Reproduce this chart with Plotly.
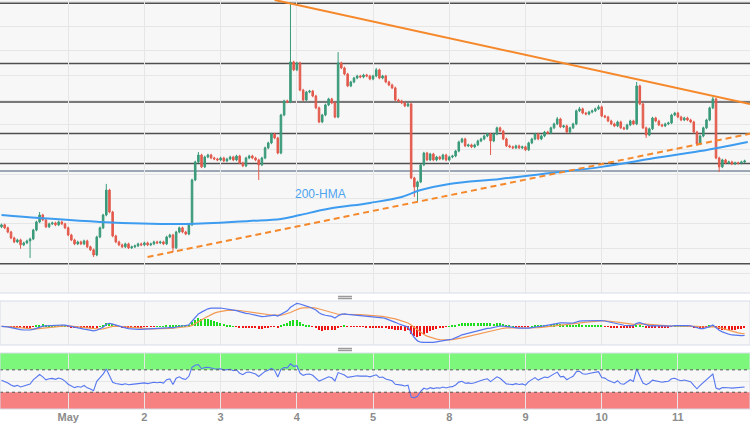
"""XAU/USD hourly chart with trend lines, 200-HMA, MACD and RSI panels."""
import pandas as pd
import plotly.graph_objects as go
from plotly.subplots import make_subplots

UP = "#3A9A7A"
DOWN = "#E35B4D"
GRID = "#E6E6E6"
PLOT_BG = "#F7F7F7"
ORANGE = "#F5882A"
HMA_BLUE = "#3D9CF0"

# day ticks (hour index of each midnight)
DAY_TICKS = [21, 45, 69, 93, 117, 141, 165, 189, 213]
DAY_LABELS = ["May", "2", "3", "4", "5", "8", "9", "10", "11"]

OPEN_0 = 1988.7
CLOSE = [
    1989.5, 1988.3, 1986.6, 1984.2, 1982.6, 1983.4, 1981.4, 1982.2, 1983.0, 1983.8,
    1987.4, 1990.7, 1993.5, 1991.5, 1988.7, 1989.9, 1990.3, 1989.5, 1990.7, 1989.9,
    1988.3, 1985.4, 1983.4, 1981.8, 1982.6, 1981.8, 1983.0, 1980.6, 1979.4, 1977.3,
    1984.6, 1988.3, 1993.5, 2003.6, 1994.7, 1985.0, 1982.6, 1981.4, 1980.6, 1981.8,
    1980.2, 1980.6, 1981.0, 1981.8, 1981.4, 1982.2, 1981.4, 1981.8, 1982.6, 1982.2,
    1982.6, 1981.8, 1984.6, 1985.4, 1980.2, 1986.6, 1988.3, 1986.6, 1985.8, 1989.5,
    2007.7, 2015.0, 2017.8, 2013.0, 2017.0, 2017.8, 2016.6, 2016.2, 2015.8, 2016.6,
    2015.4, 2016.2, 2017.0, 2015.8, 2017.4, 2014.6, 2013.4, 2016.6, 2017.4, 2016.6,
    2015.8, 2013.8, 2016.6, 2020.7, 2022.7, 2026.3, 2024.7, 2018.6, 2034.0, 2039.7,
    2039.3, 2055.5, 2052.3, 2055.1, 2044.1, 2040.1, 2043.3, 2043.7, 2041.7, 2036.9,
    2031.2, 2034.0, 2038.1, 2040.5, 2038.9, 2033.2, 2055.1, 2053.1, 2050.6, 2045.8,
    2047.4, 2049.0, 2049.8, 2049.4, 2050.2, 2049.8, 2048.6, 2049.8, 2052.3, 2049.0,
    2049.8, 2047.4, 2046.2, 2045.0, 2040.1, 2039.7, 2038.9, 2037.7, 2038.5, 2008.5,
    2004.9, 2006.9, 2013.8, 2018.6, 2015.8, 2018.2, 2015.8, 2017.0, 2016.2, 2017.8,
    2015.8, 2017.0, 2017.4, 2019.4, 2023.1, 2024.3, 2021.5, 2021.9, 2021.1, 2021.9,
    2023.5, 2024.3, 2025.5, 2026.3, 2023.5, 2026.3, 2028.8, 2027.5, 2024.3, 2021.5,
    2021.1, 2020.7, 2021.5, 2020.7, 2021.1, 2019.9, 2022.7, 2024.3, 2026.3, 2024.3,
    2025.5, 2027.1, 2026.7, 2028.8, 2030.4, 2032.4, 2029.2, 2029.6, 2027.1, 2028.8,
    2030.4, 2035.7, 2036.5, 2034.8, 2034.4, 2035.2, 2035.7, 2036.5, 2037.3, 2033.6,
    2033.2, 2031.6, 2030.4, 2029.6, 2031.2, 2028.8, 2028.4, 2030.0, 2031.6, 2030.4,
    2045.8, 2038.5, 2028.8, 2025.9, 2028.4, 2032.8, 2031.6, 2030.0, 2029.6, 2030.4,
    2030.8, 2034.0, 2034.8, 2033.2, 2032.0, 2032.8, 2032.0, 2031.2, 2027.1, 2022.3,
    2025.5, 2028.8, 2032.0, 2036.9, 2040.5, 2016.6, 2013.0, 2015.8, 2014.6, 2015.0,
    2014.2, 2014.6, 2014.5, 2015.0, 2015.4,
]

# visible long wicks
WICK_HIGH = {12: 1994.7, 33: 2006.1, 62: 2019.0, 91: 2079.8, 106: 2059.5,
             118: 2053.1, 175: 2033.2, 182: 2037.3, 188: 2038.1, 200: 2047.4,
             224: 2041.3}
WICK_LOW = {6: 1979.8, 9: 1976.1, 29: 1976.5, 54: 1978.5, 81: 2007.7,
            130: 2000.8, 131: 1998.8, 154: 2017.8, 203: 2024.7, 219: 2021.5,
            226: 2010.9}
SMALL_WICK = 0.5

HMA_IDX = [0, 12, 31, 58, 78, 88, 94, 103, 116, 126, 132, 141, 157, 173, 189, 204, 220, 235]
HMA_VAL = [1993.5, 1992.3, 1990.7, 1989.9, 1991.1, 1991.9, 1993.5, 1996.0, 1998.4,
           2000.8, 2003.6, 2006.1, 2008.1, 2010.5, 2013.0, 2016.2, 2019.4, 2023.1]

LEVELS = [2079.3, 2054.9, 2039.3, 2026.5, 2014.4, 1973.7]
LEVEL_SLATE = 2011.3

RESIST_X, RESIST_Y = [86, 235.7], [2080.6, 2038.5]
SUPPORT_X, SUPPORT_Y = [46, 235.7], [1976.5, 2026.4]

RSI_SEED_GAIN, RSI_SEED_LOSS = 1.2, 1.2

# ---- derived OHLC + indicators ----
n = len(CLOSE)
idx = list(range(n))
opens = [OPEN_0] + CLOSE[:-1]
highs = [WICK_HIGH.get(i, max(o, c) + SMALL_WICK) for i, (o, c) in enumerate(zip(opens, CLOSE))]
lows = [WICK_LOW.get(i, min(o, c) - SMALL_WICK) for i, (o, c) in enumerate(zip(opens, CLOSE))]

cs = pd.Series(CLOSE)
macd = cs.ewm(span=12, adjust=False).mean() - cs.ewm(span=26, adjust=False).mean()
signal = macd.ewm(span=9, adjust=False).mean()
hist = macd - signal

rsi = []
g, l, prev = RSI_SEED_GAIN, RSI_SEED_LOSS, OPEN_0
for c in CLOSE:
    ch = c - prev
    g = (g * 13 + max(ch, 0)) / 14
    l = (l * 13 + max(-ch, 0)) / 14
    rsi.append(100 - 100 / (1 + g / l))
    prev = c

fig = make_subplots(rows=3, cols=1, shared_xaxes=True, vertical_spacing=0.0)

fig.add_trace(go.Candlestick(
    x=idx, open=opens, high=highs, low=lows, close=CLOSE,
    increasing=dict(line=dict(color=UP, width=1), fillcolor=UP),
    decreasing=dict(line=dict(color=DOWN, width=1), fillcolor=DOWN),
    whiskerwidth=0, showlegend=False, hoverinfo="skip",
), row=1, col=1)

fig.add_trace(go.Scatter(x=HMA_IDX, y=HMA_VAL, mode="lines", line=dict(color=HMA_BLUE, width=2, shape="spline"),
                         showlegend=False, hoverinfo="skip"), row=1, col=1)
fig.add_trace(go.Scatter(x=RESIST_X, y=RESIST_Y, mode="lines", line=dict(color=ORANGE, width=2),
                         showlegend=False, hoverinfo="skip"), row=1, col=1)
fig.add_trace(go.Scatter(x=SUPPORT_X, y=SUPPORT_Y, mode="lines", line=dict(color=ORANGE, width=2, dash="6px,4px"),
                         showlegend=False, hoverinfo="skip"), row=1, col=1)

# MACD
fig.add_trace(go.Bar(x=idx, y=hist, width=0.45,
                     marker=dict(color=["#1EDC1E" if v >= 0 else "#EE1515" for v in hist], line=dict(width=0)),
                     showlegend=False, hoverinfo="skip"), row=2, col=1)
fig.add_trace(go.Scatter(x=idx, y=signal, mode="lines", line=dict(color="#F29A55", width=1.2),
                         showlegend=False, hoverinfo="skip"), row=2, col=1)
fig.add_trace(go.Scatter(x=idx, y=macd, mode="lines", line=dict(color="#5576F0", width=1.2),
                         showlegend=False, hoverinfo="skip"), row=2, col=1)

# RSI
fig.add_trace(go.Scatter(x=idx, y=rsi, mode="lines", line=dict(color="#5576F0", width=1.1),
                         showlegend=False, hoverinfo="skip"), row=3, col=1)

# horizontal levels
for lv in LEVELS:
    fig.add_shape(type="line", xref="x domain", x0=0, x1=1, yref="y", y0=lv, y1=lv,
                  line=dict(color="#4F4F4F", width=1.5), layer="below")
fig.add_shape(type="line", xref="x domain", x0=0, x1=1, yref="y", y0=LEVEL_SLATE, y1=LEVEL_SLATE,
              line=dict(color="#7F8EA0", width=1.5), layer="below")

# RSI zones
fig.add_shape(type="rect", xref="x3 domain", x0=0, x1=1, yref="y3", y0=70, y1=100,
              fillcolor="#7CF77C", line=dict(width=0), layer="below")
fig.add_shape(type="rect", xref="x3 domain", x0=0, x1=1, yref="y3", y0=0, y1=30,
              fillcolor="#F78080", line=dict(width=0), layer="below")
for lv in (70, 30):
    fig.add_shape(type="line", xref="x3 domain", x0=0, x1=1, yref="y3", y0=lv, y1=lv,
                  line=dict(color="#555555", width=1, dash="dot"))

# panel borders and grabbers
for y0, y1 in ((0.1977, 0.3), (0.0488, 0.179)):
    fig.add_shape(type="rect", xref="paper", yref="paper", x0=0, x1=1, y0=y0, y1=y1,
                  line=dict(color="#D6DCEA", width=1))
fig.add_shape(type="line", xref="paper", yref="paper", x0=0, x1=1, y0=0.3186, y1=0.3186,
              line=dict(color="#D6DCEA", width=1))
for ya in (0.3105, 0.3058, 0.1895, 0.1849):
    fig.add_shape(type="line", xref="paper", yref="paper", x0=0.4507, x1=0.4693, y0=ya, y1=ya,
                  line=dict(color="#9A9A9A", width=1.5))

fig.add_annotation(x=100.6, y=2002.2, xref="x", yref="y", text="200-HMA", showarrow=False,
                   font=dict(family="Liberation Sans", size=12, color="#4DA3F0"))

xcommon = dict(range=[-0.47, 235.7], tickvals=DAY_TICKS, showgrid=True, gridcolor=GRID, gridwidth=1,
               zeroline=False, showline=False, ticks="", fixedrange=True, automargin=False)
fig.update_xaxes(**xcommon)
fig.update_xaxes(showticklabels=False, row=1, col=1)
fig.update_xaxes(showticklabels=False, row=2, col=1)
fig.update_xaxes(showticklabels=True, ticktext=DAY_LABELS, row=3, col=1,
                 tickfont=dict(family="Liberation Sans", size=11, color="#8C8C8C", weight="bold"))

lo = min(macd.min(), signal.min())
hi = max(macd.max(), signal.max())
pad = (hi - lo) * 0.06

fig.update_layout(
    width=750, height=430, autosize=False,
    margin=dict(l=0, r=0, t=0, b=0, pad=0),
    paper_bgcolor="white", plot_bgcolor=PLOT_BG,
    xaxis=dict(rangeslider=dict(visible=False)),
    yaxis=dict(domain=[0.3186, 1.0], range=[1961.9, 2080.6], dtick=10, tick0=0, showgrid=True,
               gridcolor=GRID, showticklabels=False, zeroline=False, automargin=False),
    yaxis2=dict(domain=[0.1977, 0.3], range=[lo - pad, hi + pad], showgrid=False,
                showticklabels=False, zeroline=False, automargin=False),
    yaxis3=dict(domain=[0.0488, 0.179], range=[0, 100], tickvals=[50], showgrid=True,
                gridcolor=GRID, showticklabels=False, zeroline=False, automargin=False),
    bargap=0,
)

fig.write_html("out.html", config={"responsive": False, "displayModeBar": False},
               post_script="document.body.style.margin='0';")
